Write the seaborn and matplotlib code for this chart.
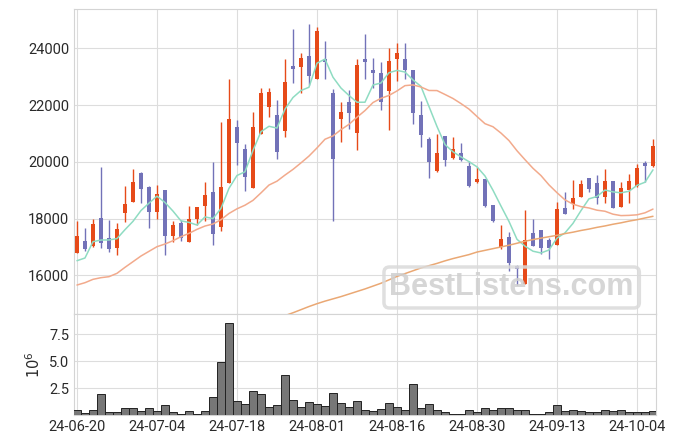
import numpy as np
import pandas as pd
import matplotlib
matplotlib.use('Agg')
import matplotlib.pyplot as plt
import seaborn as sns

# trading days (KRX calendar, holidays skipped)
holidays = ['2024-08-15', '2024-09-16', '2024-09-17', '2024-09-18', '2024-10-01', '2024-10-03']
dates = pd.bdate_range('2024-06-20', '2024-10-08', freq='C', holidays=holidays)

opens = [16800, 17210, 17030, 18010, 17300, 16970, 18180, 18600, 19590, 19110,
         18240, 18990, 17400, 17840, 17190, 17970, 18450, 18940, 17710, 19250,
         21230, 20450, 19090, 20980, 21940, 21650, 21100, 23380, 23350, 23730,
         22930, 23620, 22420, 21500, 22110, 21030, 23620, 23240, 23130, 22510,
         23610, 23610, 23220, 21640, 20790, 19690, 20900, 20150, 20300, 19860,
         19290, 19390, 18480, 16990, 17340, 16330, 15680, 17480, 17580, 17240,
         17080, 18360, 18500, 18770, 19420, 19240, 18770, 19310, 18420, 18990,
         19140, 19950, 19860]
closes = [17390, 16940, 17810, 17150, 16940, 17630, 18510, 19280, 19050, 18240,
          18870, 17400, 17760, 17330, 17970, 18400, 18830, 17470, 19110, 21510,
          20670, 19480, 21230, 22420, 22460, 20360, 22810, 23280, 23650, 23040,
          24600, 23530, 20090, 21740, 21730, 23410, 23530, 23120, 22100, 23540,
          23820, 23240, 21730, 20960, 20000, 20300, 20060, 20450, 20060, 19160,
          19390, 18450, 17930, 17280, 16450, 16240, 17240, 17040, 16970, 16970,
          18330, 18170, 18710, 19220, 19050, 18740, 19310, 18380, 19060, 19320,
          19780, 19860, 20560]
highs = [17900, 17650, 18000, 19820, 17940, 17830, 19150, 19730, 19640, 19150,
         19180, 19000, 17910, 17960, 18440, 18400, 19280, 19980, 21390, 22920,
         21470, 20620, 21740, 22590, 22590, 22170, 23610, 24670, 23820, 24840,
         24760, 24260, 22550, 22100, 22520, 23610, 24490, 23650, 23510, 24000,
         24200, 24180, 23220, 22150, 20860, 20990, 20900, 20860, 20650, 20040,
         19830, 19390, 18480, 17760, 17540, 16350, 18290, 17970, 17580, 17300,
         18600, 18950, 19350, 19350, 19420, 19520, 19730, 19310, 19300, 19580,
         19910, 20020, 20800]
lows = [16770, 16870, 17010, 16970, 16810, 16700, 17870, 18590, 18560, 17660,
        18000, 16700, 17160, 17210, 17160, 17790, 17930, 17060, 17570, 19250,
        19880, 18980, 19090, 20980, 21570, 20090, 20860, 22770, 22410, 22710,
        22930, 22910, 17900, 20690, 21140, 20400, 22910, 22590, 21830, 21120,
        22860, 22910, 21330, 20510, 19420, 19630, 19860, 20090, 20040, 19100,
        19270, 18400, 17890, 16940, 16160, 15660, 15680, 17030, 16740, 16590,
        17080, 18150, 18330, 18770, 18940, 18500, 18540, 18380, 18420, 18540,
        19120, 19300, 19810]
# volume in millions
volume = [0.49, 0.18, 0.49, 1.94, 0.27, 0.27, 0.65, 0.65, 0.40, 0.65,
          0.40, 0.92, 0.27, 0.09, 0.40, 0.09, 0.40, 1.66, 4.90, 8.52,
          1.32, 1.02, 2.25, 1.94, 0.77, 0.92, 3.70, 1.42, 0.77, 1.20,
          1.02, 0.83, 2.03, 1.11, 0.80, 1.29, 0.49, 0.37, 0.55, 1.11,
          0.74, 0.49, 2.87, 0.65, 1.02, 0.49, 0.27, 0.15, 0.15, 0.49,
          0.27, 0.65, 0.49, 0.65, 0.65, 0.46, 0.49, 0.15, 0.15, 0.27,
          0.92, 0.40, 0.49, 0.40, 0.27, 0.27, 0.49, 0.40, 0.49, 0.27,
          0.27, 0.27, 0.40]

# moving averages: first values depend on days before the window
ma5_head = [16515, 16610, 17185, 17244]
ma20_head = [15658, 15740, 15858, 15917, 15952, 16070, 16281, 16480, 16680, 16845,
             17009, 17103, 17220, 17361, 17479, 17620, 17737, 17808, 17960]
# long MA (120 days), only visible from the 27th candle on
ma120_tail = [14580, 14680, 14790, 14900, 15000, 15090, 15170, 15250, 15340, 15430,
              15520, 15620, 15720, 15840, 15960, 16060, 16160, 16260, 16340, 16420,
              16510, 16590, 16660, 16730, 16820, 16880, 16940, 17000, 17060, 17130,
              17200, 17260, 17310, 17360, 17410, 17470, 17520, 17580, 17630, 17690,
              17740, 17800, 17850, 17910, 17960, 18020, 18080]

df = pd.DataFrame({'date': dates, 'open': opens, 'high': highs, 'low': lows,
                   'close': closes, 'volume': volume})
df['i'] = np.arange(len(df))
df['ma5'] = df['close'].rolling(5).mean()
df.loc[:3, 'ma5'] = ma5_head
df['ma20'] = df['close'].rolling(20).mean()
df.loc[:18, 'ma20'] = ma20_head
df['ma120'] = [np.nan] * (len(df) - len(ma120_tail)) + ma120_tail

up_color = '#e64a19'
down_color = '#7272b8'

sns.set_style('whitegrid', {'grid.color': '#dddddd', 'axes.edgecolor': '#d4d4d4'})
plt.rcParams['font.family'] = ['Roboto', 'DejaVu Sans']

fig = plt.figure(figsize=(6.75, 4.44), dpi=100)
ax = fig.add_axes([0.110, 0.2928, 0.8614, 0.6862])
axv = fig.add_axes([0.110, 0.0646, 0.8614, 0.2282])

# candles
up = df['close'] >= df['open']
colors = np.where(up, up_color, down_color)
ax.vlines(df['i'], df['low'], df['high'], colors=colors, lw=1, zorder=3)
ax.bar(df['i'], (df['close'] - df['open']).abs(), bottom=df[['open', 'close']].min(axis=1),
       width=0.6, color=colors, linewidth=0, zorder=4)

sns.lineplot(data=df, x='i', y='ma5', ax=ax, color='#8fdcc2', lw=1.1, zorder=5)
sns.lineplot(data=df, x='i', y='ma20', ax=ax, color='#f2aa8c', lw=1.1, zorder=5)
sns.lineplot(data=df, x='i', y='ma120', ax=ax, color='#eaa874', lw=1.1, zorder=5)

ax.set_ylim(14637, 25374)
ax.set_yticks([16000, 18000, 20000, 22000, 24000])
ax.set_xlim(-0.34, 72.34)
tick_pos = list(range(0, 71, 10))
ax.set_xticks(tick_pos)
ax.set_xlabel('')
ax.set_ylabel('')
ax.tick_params(length=0, labelbottom=False, labelsize=10.5, labelcolor='#2a2a2a')

# volume
sns.barplot(data=df, x='i', y='volume', ax=axv, color='#777777', width=1.0,
            saturation=1, edgecolor='#222222', linewidth=0.7, zorder=3)
axv.set_xlim(-0.34, 72.34)
axv.set_ylim(0, 9.38)
axv.set_yticks([2.5, 5.0, 7.5])
axv.set_yticklabels(['2.5', '5.0', '7.5'])
axv.set_xticks(tick_pos)
axv.set_xticklabels([dates[p].strftime('%y-%m-%d') for p in tick_pos])
axv.grid(True, axis='both')
axv.set_xlabel('')
axv.set_ylabel(r'$10^6$', fontsize=10.5, color='#2a2a2a')
axv.yaxis.set_label_coords(-0.054, 0.5)
axv.tick_params(length=0, labelsize=10.5, labelcolor='#2a2a2a')

# watermark
fig.text(0.758, 0.3525, 'BestListens.com', ha='center', va='center',
         family='Liberation Sans', weight='bold', fontsize=22, color='#cfcfcf', alpha=0.85,
         zorder=10,
         bbox=dict(boxstyle='round,pad=0.18', fc='none', ec='#dadada', lw=2.5, alpha=0.85))

fig.savefig('out.png', dpi=100)
